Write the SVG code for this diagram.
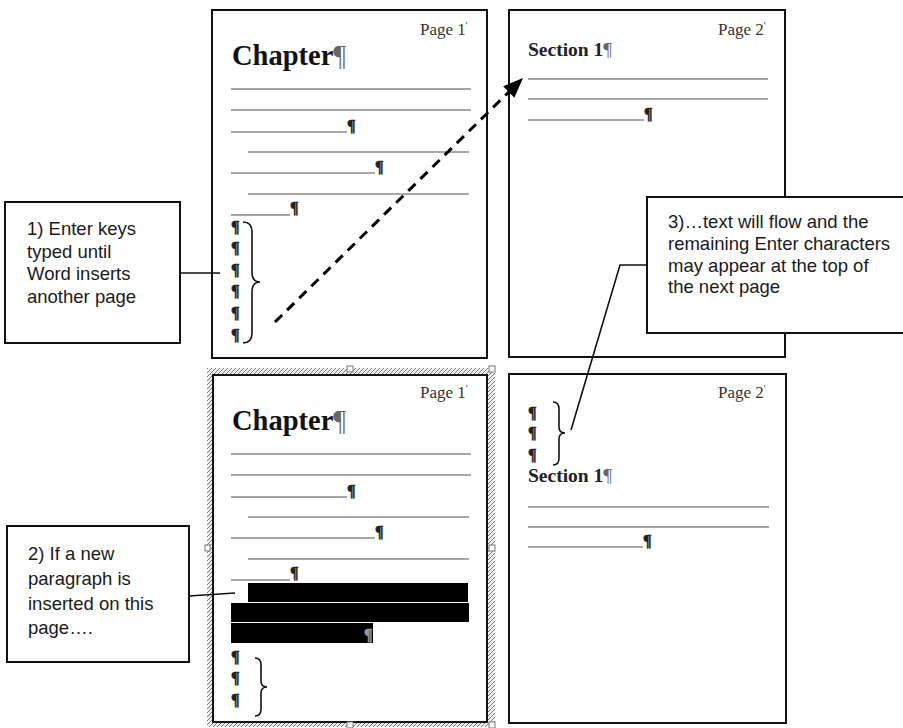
<svg xmlns="http://www.w3.org/2000/svg" width="903" height="728" viewBox="0 0 903 728">
<defs>
<style>
.page{fill:#fff;stroke:#111;stroke-width:2}
.box{fill:#fff;stroke:#111;stroke-width:2}
.ln{stroke:#8a8a8a;stroke-width:1.5;fill:none}
.bar{fill:#000}
.pil{font-family:"Liberation Serif",serif;font-size:16px;font-weight:bold;fill:#222;stroke:#222;stroke-width:0.5}
.pg{font-family:"Liberation Serif",serif;font-size:17px;fill:#333}
.tick{font-family:"Liberation Serif",serif;font-size:10px;fill:#333}
.chap{font-family:"Liberation Serif",serif;font-size:28.5px;font-weight:bold;fill:#111}
.sec{font-family:"Liberation Serif",serif;font-size:19.5px;font-weight:bold;fill:#222}
.pm{fill:#666;font-weight:normal}
.txt{font-family:"Liberation Sans",Arial,sans-serif;font-size:18.5px;fill:#1a1a1a}
.brace{fill:none;stroke:#111;stroke-width:1.6}
.conn{fill:none;stroke:#111;stroke-width:1.6}
.handle{fill:#fff;stroke:#777;stroke-width:1}
</style>
<pattern id="hatch" width="4" height="4" patternUnits="userSpaceOnUse">
<rect width="4" height="4" fill="#f2f2f2"/>
<path d="M-1,1 l2,-2 M0,4 l4,-4 M3,5 l2,-2" stroke="#777" stroke-width="1"/>
</pattern>
<marker id="arrow" viewBox="0 0 20 16" refX="4" refY="8" markerWidth="20" markerHeight="16" markerUnits="userSpaceOnUse" orient="auto">
<path d="M0,0 L20,8 L0,16 Z" fill="#000"/>
</marker>
</defs>
<rect width="903" height="728" fill="#fff"/>

<g id="page1-top">
<rect class="page" x="212" y="10" width="275" height="348"/>
<text class="pg" x="420" y="35">Page 1<tspan class="tick" dy="-6">'</tspan></text>
<text class="chap" x="232" y="65">Chapter<tspan class="pm">¶</tspan></text>
<path class="ln" d="M231,89 H471 M231,110 H471 M231,132 H347 M248,152 H469 M231,173 H375 M248,194 H469 M231,215 H290"/>
<text class="pil" x="347" y="131">¶</text>
<text class="pil" x="375" y="172">¶</text>
<text class="pil" x="290" y="213">¶</text>
<text class="pil" x="231" y="232">¶</text>
<text class="pil" x="231" y="253">¶</text>
<text class="pil" x="231" y="275">¶</text>
<text class="pil" x="231" y="296">¶</text>
<text class="pil" x="231" y="318">¶</text>
<text class="pil" x="231" y="340">¶</text>
<path class="brace" d="M243,222 Q252,222 252,232 L252,272 Q252,282 260,282 Q252,282 252,292 L252,333 Q252,343 243,343"/>
</g>

<g id="page2-top">
<rect class="page" x="509" y="10" width="276" height="347"/>
<text class="pg" x="718" y="35">Page 2<tspan class="tick" dy="-6">'</tspan></text>
<text class="sec" x="528" y="56">Section 1<tspan class="pm">¶</tspan></text>
<path class="ln" d="M528,79 H768 M528,99 H768 M528,120 H644"/>
<text class="pil" x="644" y="119">¶</text>
</g>

<g id="page1-bottom">
<path d="M207,368 H495 V727 H207 Z M213,375 V722 H487 V375 Z" fill="url(#hatch)" fill-rule="evenodd"/>
<rect class="page" x="213" y="375" width="274" height="347" stroke-width="1.5"/>
<rect class="handle" x="347" y="366" width="6" height="6"/>
<rect class="handle" x="489" y="366" width="6" height="6"/>
<rect class="handle" x="489" y="545" width="6" height="6"/>
<rect class="handle" x="205" y="545" width="5" height="6"/>
<rect class="handle" x="347" y="722" width="6" height="6"/>
<rect class="handle" x="489" y="722" width="6" height="6"/>
<text class="pg" x="420" y="398">Page 1<tspan class="tick" dy="-6">'</tspan></text>
<text class="chap" x="232" y="430">Chapter<tspan class="pm">¶</tspan></text>
<path class="ln" d="M231,454 H471 M231,475 H471 M231,497 H347 M248,517 H469 M231,538 H375 M248,559 H469 M231,580 H290"/>
<text class="pil" x="347" y="496">¶</text>
<text class="pil" x="375" y="537">¶</text>
<text class="pil" x="290" y="578">¶</text>
<rect class="bar" x="248" y="583" width="220" height="19"/>
<rect class="bar" x="231" y="603" width="238" height="19"/>
<rect class="bar" x="231" y="623" width="142" height="20"/>
<text class="pil" x="364" y="640" style="fill:#999;stroke:#999">¶</text>
<text class="pil" x="231" y="662">¶</text>
<text class="pil" x="231" y="683">¶</text>
<text class="pil" x="231" y="705">¶</text>
<path class="brace" d="M255,658 Q261,658 261,665 L261,681 Q261,687 267,687 Q261,687 261,693 L261,709 Q261,716 255,716"/>
</g>

<g id="page2-bottom">
<rect class="page" x="509" y="374" width="277" height="349"/>
<text class="pg" x="718" y="398">Page 2<tspan class="tick" dy="-6">'</tspan></text>
<text class="pil" x="528" y="418">¶</text>
<text class="pil" x="528" y="438">¶</text>
<text class="pil" x="528" y="460">¶</text>
<path class="brace" d="M553,402 Q559,402 559,409 L559,427 Q559,433 565,433 Q559,433 559,439 L559,458 Q559,465 553,465"/>
<text class="sec" x="528" y="482">Section 1<tspan class="pm">¶</tspan></text>
<path class="ln" d="M528,507 H769 M528,527 H769 M528,547 H643"/>
<text class="pil" x="643" y="546">¶</text>
</g>

<g id="connectors">
<line x1="275" y1="322" x2="511.6" y2="89.2" stroke="#000" stroke-width="3" stroke-dasharray="10 7" marker-end="url(#arrow)"/>
<path class="conn" d="M180,273 H220"/>
<path class="conn" d="M189,596 L235,593"/>
<path class="conn" d="M647,265 H620 L571,430"/>
</g>

<g id="callout1">
<rect class="box" x="5" y="202" width="175" height="141"/>
<text class="txt" x="27" y="235">1) Enter keys</text>
<text class="txt" x="27" y="258">typed until</text>
<text class="txt" x="27" y="280">Word inserts</text>
<text class="txt" x="27" y="303">another page</text>
</g>

<g id="callout2">
<rect class="box" x="7" y="526" width="182" height="136"/>
<text class="txt" x="28" y="560">2) If a new</text>
<text class="txt" x="28" y="585">paragraph is</text>
<text class="txt" x="28" y="610">inserted on this</text>
<text class="txt" x="28" y="634">page….</text>
</g>

<g id="callout3">
<rect class="box" x="647" y="197" width="262" height="136"/>
<text class="txt" x="668" y="228">3)…text will flow and the</text>
<text class="txt" x="668" y="250">remaining Enter characters</text>
<text class="txt" x="668" y="272">may appear at the top of</text>
<text class="txt" x="668" y="293">the next page</text>
</g>
</svg>
